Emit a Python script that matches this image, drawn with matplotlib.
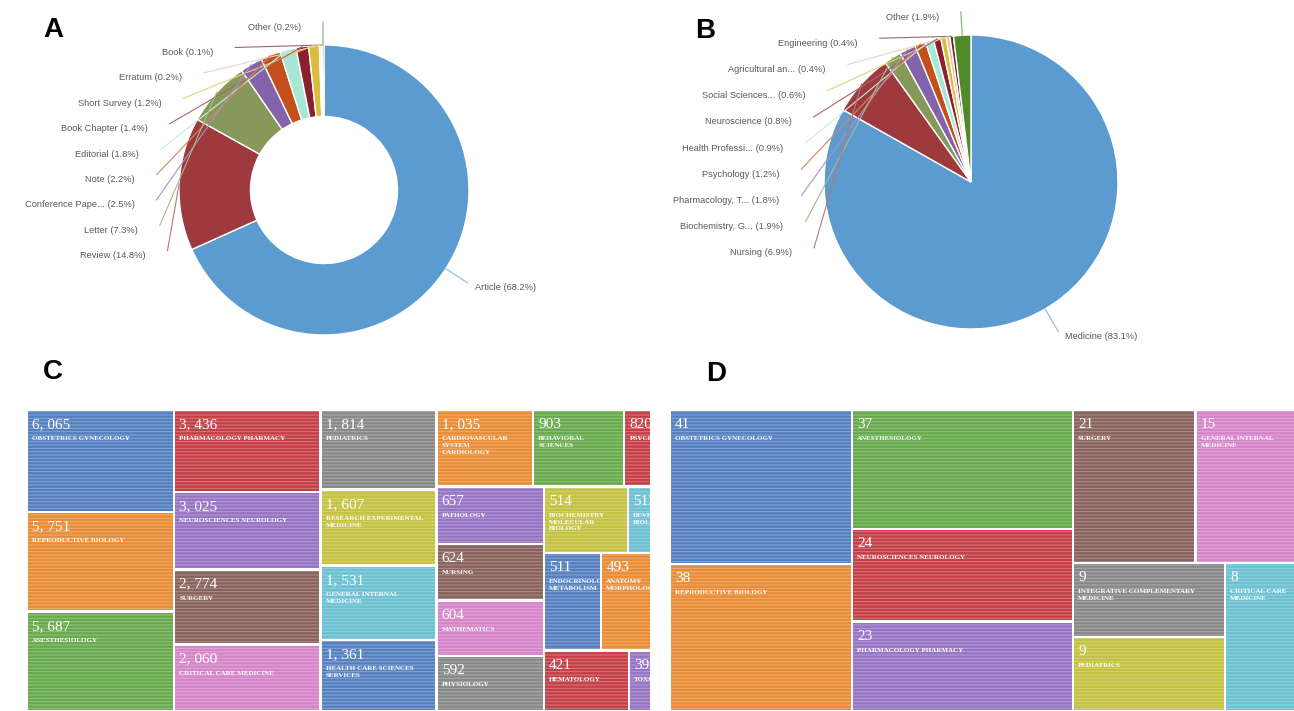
import numpy as np
import matplotlib
matplotlib.use('Agg')
import matplotlib.pyplot as plt
from matplotlib.patches import Rectangle
from matplotlib.colors import to_rgb

# A - document types (%)
doc_types = ['Article', 'Review', 'Letter', 'Conference Pape...', 'Note', 'Editorial',
             'Book Chapter', 'Short Survey', 'Erratum', 'Book', 'Other']
doc_pct = [68.2, 14.8, 7.3, 2.5, 2.2, 1.8, 1.4, 1.2, 0.2, 0.1, 0.2]

# B - subject areas (%)
subj_names = ['Medicine', 'Nursing', 'Biochemistry, G...', 'Pharmacology, T...', 'Psychology',
              'Health Professi...', 'Neuroscience', 'Social Sciences...', 'Agricultural an...',
              'Engineering', 'Other']
subj_pct = [83.1, 6.9, 1.9, 1.8, 1.2, 0.9, 0.8, 0.6, 0.4, 0.4, 1.9]

# C - WoS categories, all records
wos_names = ['OBSTETRICS GYNECOLOGY', 'REPRODUCTIVE BIOLOGY', 'ANESTHESIOLOGY',
             'PHARMACOLOGY PHARMACY', 'NEUROSCIENCES NEUROLOGY', 'SURGERY',
             'CRITICAL CARE MEDICINE', 'PEDIATRICS', 'RESEARCH EXPERIMENTAL\nMEDICINE',
             'GENERAL INTERNAL\nMEDICINE', 'HEALTH CARE SCIENCES\nSERVICES',
             'CARDIOVASCULAR\nSYSTEM\nCARDIOLOGY', 'BEHAVIORAL\nSCIENCES', 'PSYCHOLOGY',
             'PATHOLOGY', 'NURSING', 'MATHEMATICS', 'PHYSIOLOGY',
             'BIOCHEMISTRY\nMOLECULAR\nBIOLOGY', 'DEVELOPMENTAL\nBIOLOGY',
             'ENDOCRINOLOGY\nMETABOLISM', 'ANATOMY\nMORPHOLOGY',
             'PUBLIC\nENVIRONMENTAL\nOCCUPATIONAL\nHEALTH', 'HEMATOLOGY', 'TOXICOLOGY']
wos_counts = [6065, 5751, 5687, 3436, 3025, 2774, 2060, 1814, 1607, 1531, 1361,
              1035, 903, 820, 657, 624, 604, 592, 514, 513, 511, 493, 451, 421, 393]

# D - WoS categories, top cited
top_names = ['OBSTETRICS GYNECOLOGY', 'REPRODUCTIVE BIOLOGY', 'ANESTHESIOLOGY',
             'NEUROSCIENCES NEUROLOGY', 'PHARMACOLOGY PHARMACY', 'SURGERY',
             'GENERAL INTERNAL\nMEDICINE', 'INTEGRATIVE COMPLEMENTARY\nMEDICINE',
             'PEDIATRICS', 'CRITICAL CARE\nMEDICINE']
top_counts = [41, 38, 37, 24, 23, 21, 15, 9, 9, 8]

pie_colors = ['#5b9bd0', '#9e3a3e', '#87995a', '#8463ab', '#c3501a', '#a8e6d6',
              '#8b1f2e', '#d9be3d', '#ebbca6', '#6b2b2d', '#4f8a2b']
tree_colors = ['#5580c0', '#e88c35', '#67aa4c', '#c63f47', '#9673c3',
               '#88625c', '#d584c8', '#888888', '#c4c240', '#6bc0d2']

# nesting of the treemap blocks ('h' = side by side, 'v' = stacked)
tree_c = ('h', [('v', [0, 1, 2]), ('v', [3, 4, 5, 6]), ('v', [7, 8, 9, 10]),
                ('v', [('h', [11, 12, 13]),
                       ('h', [('v', [14, 15, 16, 17]),
                              ('v', [('h', [18, 19]), ('h', [20, 21, 22]), ('h', [23, 24])])])])])
tree_d = ('h', [('v', [0, 1]), ('v', [2, 3, 4]),
                ('v', [('h', [5, 6]), ('h', [('v', [7, 8]), 9])])])

W, H = 1294, 711
plt.rcParams['hatch.linewidth'] = 0.7
fig = plt.figure(figsize=(W / 100, H / 100), dpi=100)
fig.patch.set_facecolor('white')


def lighten(c, f):
    rgb = np.array(to_rgb(c))
    return tuple(rgb + (1 - rgb) * f)


def draw_pie(cx, cy, R, labels, values, hole, spacing):
    S = 185
    ax = fig.add_axes([(cx - S) / W, 1 - (cy + S) / H, 2 * S / W, 2 * S / H])
    wp = dict(edgecolor='white', linewidth=1.0)
    if hole:
        wp['width'] = 1 - hole
    wedges, _ = ax.pie(values, colors=pie_colors, startangle=90, counterclock=False,
                       radius=1, wedgeprops=wp)
    lim = S / R
    ax.set_xlim(-lim, lim)
    ax.set_ylim(-lim, lim)
    ax.axis('off')

    r_lab = 1.158
    step = spacing / R
    left = []
    for w, lab, val, col in zip(wedges, labels, values, pie_colors):
        ang = np.deg2rad((w.theta1 + w.theta2) / 2)
        txt = '%s (%.1f%%)' % (lab, val)
        if np.cos(ang) >= 0:
            x, y = 1.18 * np.cos(ang), 1.18 * np.sin(ang)
            ax.plot([np.cos(ang), x], [np.sin(ang), y], color=lighten(col, 0.3),
                    lw=0.8, clip_on=False, zorder=3)
            ax.text(x + 7 / R, y - 5 / R, txt, ha='left', va='center', fontsize=6.7,
                    color='#595959', family='Liberation Sans', clip_on=False)
        else:
            left.append((r_lab * np.sin(ang), ang, txt, col))
    left.sort(key=lambda t: -t[0])
    prev = None
    for ny, ang, txt, col in left:
        y = ny if prev is None else min(ny, prev - step)
        prev = y
        x = -np.sqrt(max(r_lab ** 2 - y ** 2, 0))
        ax.plot([np.cos(ang), x], [np.sin(ang), y], color=lighten(col, 0.3),
                lw=0.8, clip_on=False, zorder=3)
        ax.text(x - 22 / R, y - 5 / R, txt, ha='right', va='center', fontsize=6.7,
                color='#595959', family='Liberation Sans', clip_on=False)


def node_weight(node, wts):
    if isinstance(node, int):
        return wts[node]
    return sum(node_weight(k, wts) for k in node[1])


def layout(node, x, y, w, h, wts, out):
    if isinstance(node, int):
        out[node] = (x, y, w, h)
        return
    orient, kids = node
    tot = node_weight(node, wts)
    pos = 0.0
    for k in kids:
        f = node_weight(k, wts) / tot
        if orient == 'h':
            layout(k, x + pos * w, y, f * w, h, wts, out)
        else:
            layout(k, x, y + pos * h, w, f * h, wts, out)
        pos += f


def draw_treemap(box, tree, counts, names, full_w, power):
    x0, y0, vw, vh = box
    ax = fig.add_axes([x0 / W, 1 - (y0 + vh) / H, vw / W, vh / H])
    ax.set_xlim(x0, x0 + vw)
    ax.set_ylim(y0 + vh, y0)
    ax.axis('off')
    wts = np.array(counts, float) ** power
    cells = {}
    layout(tree, x0, y0, full_w, vh, wts, cells)
    gap = 1.2
    for i, (x, y, cw, ch) in cells.items():
        col = tree_colors[i % 10]
        xa, ya = x + gap, y + gap
        xb = min(x + cw - gap, x0 + vw)
        yb = min(y + ch - gap, y0 + vh)
        if xb <= xa or yb <= ya:
            continue
        r = Rectangle((xa, ya), xb - xa, yb - ya, facecolor=col,
                      edgecolor=lighten(col, 0.3), linewidth=0, hatch='-----')
        ax.add_patch(r)
        t1 = ax.text(xa + 4, ya + 7, '{:,}'.format(counts[i]).replace(',', ', '),
                     ha='left', va='top', fontsize=11, color='white',
                     family='Liberation Serif', clip_on=True)
        t1.set_clip_path(r)
        t2 = ax.text(xa + 4, ya + 25, names[i], ha='left', va='top', fontsize=5,
                     fontweight='bold', color='white', family='Liberation Serif',
                     linespacing=1.45, clip_on=True)
        t2.set_clip_path(r)


draw_pie(324, 190, 145, doc_types, doc_pct, hole=0.507, spacing=25.4)
draw_pie(971, 182, 147, subj_names, subj_pct, hole=0, spacing=26.2)

draw_treemap((27, 410, 623, 301), tree_c, wos_counts, wos_names, 685, 0.4)
draw_treemap((670, 410, 624, 301), tree_d, top_counts, top_names, 626, 0.6)

for lab, px, py in [('A', 43, 37), ('B', 695, 38), ('C', 43, 379), ('D', 706, 381)]:
    fig.text(px / W, 1 - py / H, lab, fontsize=20, fontweight='bold',
             family='Liberation Sans', ha='left', va='baseline')

fig.savefig('out.png', dpi=100, facecolor='white')
